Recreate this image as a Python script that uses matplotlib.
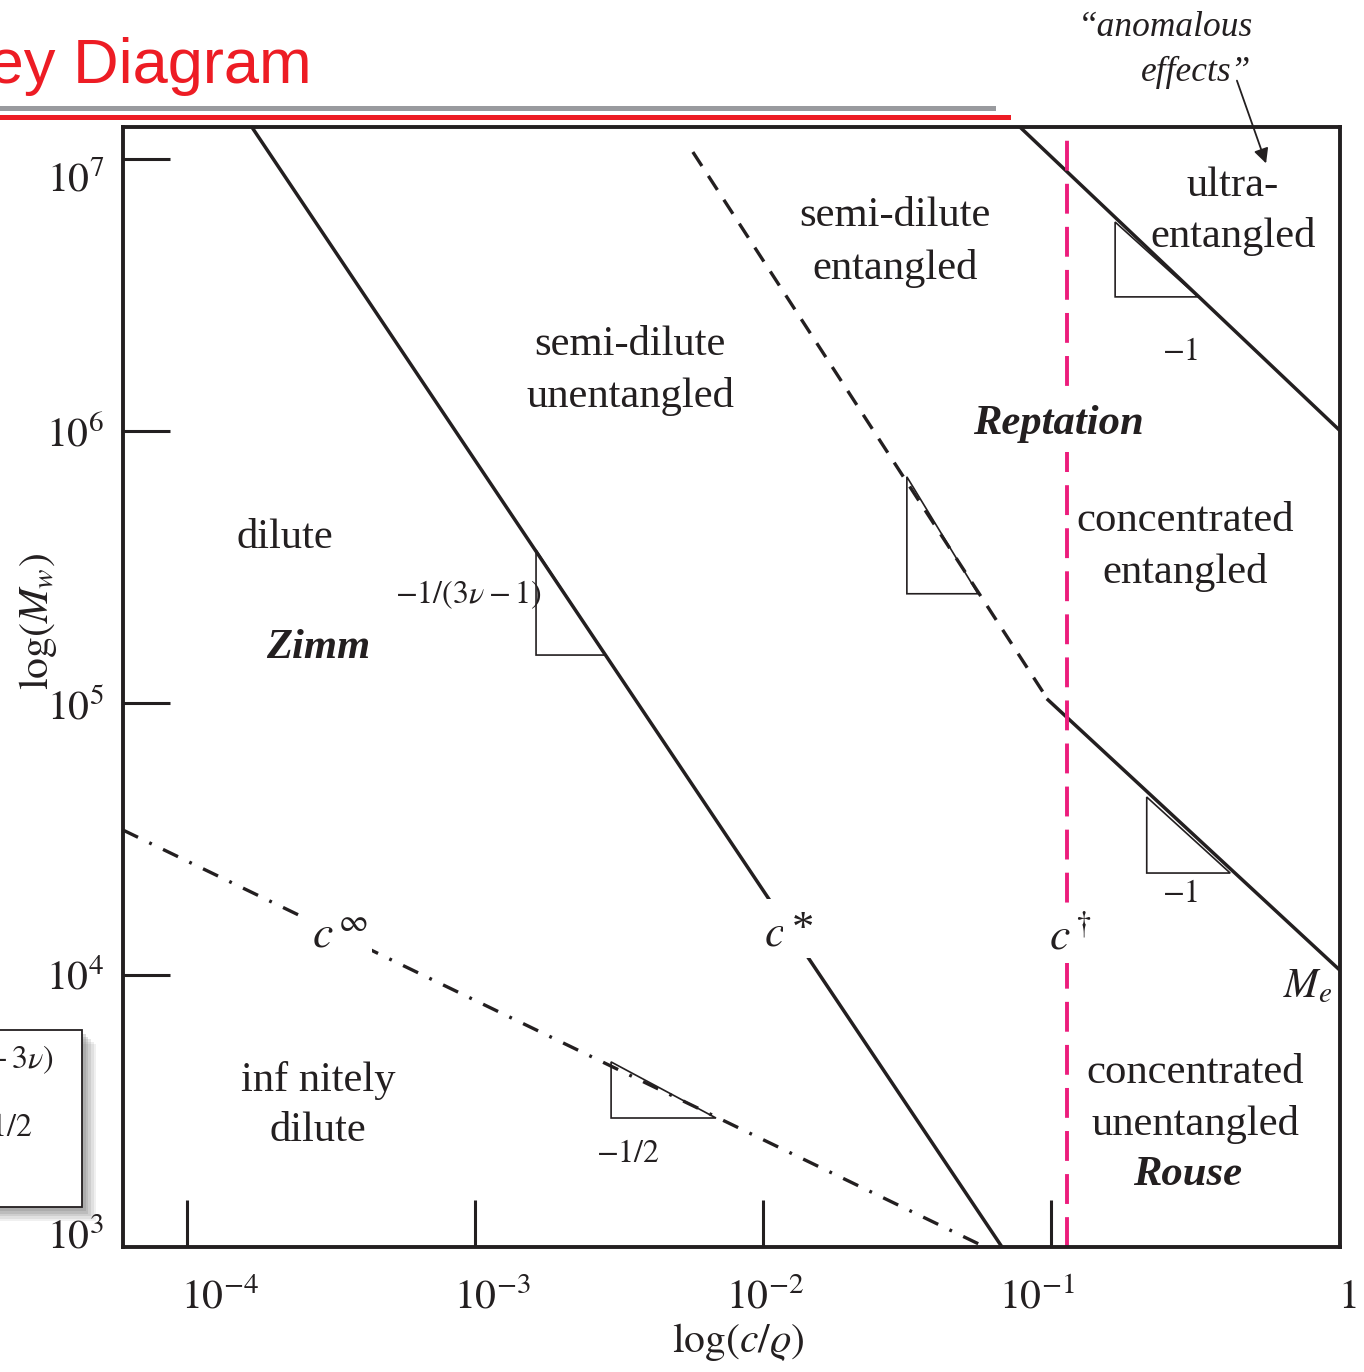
import matplotlib
matplotlib.use('Agg')
import matplotlib.pyplot as plt
from matplotlib.patches import Rectangle
from matplotlib.lines import Line2D

plt.rcParams['font.family'] = ['Liberation Serif', 'DejaVu Serif']
plt.rcParams['mathtext.fontset'] = 'stix'
plt.rcParams['lines.scale_dashes'] = False

# boundary lines: (c/rho, Mw) end points
c_star_c = [1.68e-4, 0.0676]
c_star_M = [1.31e7, 1.0e3]
c_inf_c = [6.0e-5, 0.059]
c_inf_M = [3.41e4, 1.0e3]
entangle_c = [5.71e-3, 0.0977]
entangle_M = [1.06e7, 1.026e5]
Me_c = [0.0977, 1.008]
Me_M = [1.026e5, 1.04e4]
ultra_c = [0.078, 1.0]
ultra_M = [1.31e7, 1.01e6]
c_dagger = 0.114

# slope triangles (corner top, corner bottom, right end)
tri_cstar_c = [1.63e-3, 1.63e-3, 2.83e-3]
tri_cstar_M = [3.65e5, 1.50e5, 1.50e5]
tri_ent_c = [0.0316, 0.0316, 0.0558]
tri_ent_M = [6.78e5, 2.52e5, 2.52e5]
tri_Me_c = [0.215, 0.215, 0.419]
tri_Me_M = [4.51e4, 2.37e4, 2.37e4]
tri_ultra_c = [0.167, 0.167, 0.324]
tri_ultra_M = [5.86e6, 3.11e6, 3.11e6]
tri_inf_c = [2.97e-3, 2.97e-3, 6.87e-3]
tri_inf_M = [4.79e3, 2.98e3, 2.98e3]

x_ticks = [1e-4, 1e-3, 1e-2, 1e-1]
y_ticks = [1e4, 1e5, 1e6, 1e7]
x_ticklabels = [r'$10^{-4}$', r'$10^{-3}$', r'$10^{-2}$', r'$10^{-1}$', r'$1$']
y_ticklabels = [r'$10^{7}$', r'$10^{6}$', r'$10^{5}$', r'$10^{4}$', r'$10^{3}$']

W, H = 1364, 1372
fig = plt.figure(figsize=(W / 100, H / 100), dpi=100)
ax = fig.add_axes([123 / W, 1 - 1247 / H, (1340 - 123) / W, (1247 - 127) / H])
ax.set_xscale('log')
ax.set_yscale('log')
ax.set_xlim(6.0e-5, 1.008)
ax.set_ylim(1e3, 1.31e7)


def fp(x, y):
    # figure pixel -> figure fraction
    return x / W, 1 - y / H


ink = '#231f20'
lw = 2.5
ax.plot(c_star_c, c_star_M, color=ink, lw=lw, solid_capstyle='butt')
ax.plot(c_inf_c, c_inf_M, color=ink, lw=2.4, dashes=(12, 9, 2, 9))
ax.plot(entangle_c, entangle_M, color=ink, lw=2.4, dashes=(12, 8.5))
ax.plot(Me_c, Me_M, color=ink, lw=lw)
ax.plot(ultra_c, ultra_M, color=ink, lw=lw)
ax.axvline(c_dagger, color='#ec1c7c', lw=2.8, dashes=(21.5, 9.5))

for tc, tm in [(tri_cstar_c, tri_cstar_M), (tri_ent_c, tri_ent_M), (tri_Me_c, tri_Me_M),
               (tri_ultra_c, tri_ultra_M), (tri_inf_c, tri_inf_M)]:
    ax.fill(tc, tm, facecolor='none', edgecolor=ink, lw=1.2)

for s in ax.spines.values():
    s.set_linewidth(2.8)
    s.set_color(ink)

ax.set_xticks(x_ticks)
ax.set_yticks(y_ticks)
ax.minorticks_off()
ax.tick_params(direction='in', length=34, width=2.2, color=ink,
               labelbottom=False, labelleft=False)

# tick labels
tick_fs = 30
for lab, x in zip(x_ticklabels, [220, 492, 765, 1037, 1347]):
    fig.text(*fp(x, 1298), lab, ha='center', va='center', fontsize=tick_fs, color=ink)
for lab, y in zip(y_ticklabels, [181, 436, 709, 979, 1238]):
    fig.text(*fp(104, y), lab, ha='right', va='center', fontsize=tick_fs, color=ink)

fig.text(*fp(738, 1342), r'$\mathrm{log}(c/\varrho)$', ha='center', va='center',
         fontsize=30, color=ink)
fig.text(*fp(38, 622), r'$\mathrm{log}(M_w)$', ha='center', va='center',
         fontsize=30, rotation=90, color=ink)

# region labels
fs = 30.7
txt = dict(ha='center', va='center', fontsize=fs, color=ink)
bi = dict(txt, fontweight='bold', style='italic')
for s, x, y in [('semi-dilute', 895, 216), ('entangled', 895, 268),
                ('semi-dilute', 630, 345), ('unentangled', 630, 396),
                ('ultra-', 1233, 186), ('entangled', 1233, 236),
                ('dilute', 285, 538),
                ('concentrated', 1185, 521), ('entangled', 1185, 572),
                ('inf nitely', 318, 1081), ('dilute', 318, 1131),
                ('concentrated', 1195, 1073), ('unentangled', 1195, 1124)]:
    fig.text(*fp(x, y), s, **txt)
fig.text(*fp(318, 648), 'Zimm', **bi)
fig.text(*fp(1188, 1175), 'Rouse', **bi)
fig.text(*fp(1058, 424), 'Reptation', **bi,
         bbox=dict(facecolor='white', edgecolor='none', pad=6))

# slopes
sl = dict(ha='center', va='center', fontsize=23, color=ink)
fig.text(*fp(468, 595), r'$-1/(3\nu-1)$', **sl)
fig.text(*fp(1180, 352), r'$-1$', **sl)
fig.text(*fp(1180, 895), r'$-1$', **sl)
fig.text(*fp(628, 1154), r'$-1/2$', **sl)

# line labels
wb = dict(facecolor='white', edgecolor='none', pad=3)
fig.text(*fp(775, 934), r'$c$', ha='center', va='center', fontsize=33,
         color=ink, bbox=dict(facecolor='white', edgecolor='none', pad=10))
fig.text(*fp(803, 930), '*', ha='center', va='center', fontsize=32, color=ink,
         bbox=dict(facecolor='white', edgecolor='none', pad=6))
fig.text(*fp(340, 935), r'$c\,^{\infty}$', ha='center', va='center', fontsize=33,
         color=ink, bbox=wb)
fig.text(*fp(1070, 938), r'$c\,^{\dagger}$', ha='center', va='center', fontsize=33,
         color=ink, bbox=wb)
fig.text(*fp(1308, 987), r'$M_e$', ha='center', va='center', fontsize=30, color=ink)

# anomalous effects annotation
fig.text(*fp(1165, 27), '\u201canomalous', ha='center', va='center', fontsize=25.5,
         style='italic', color=ink)
fig.text(*fp(1196, 72), 'effects\u201d', ha='center', va='center', fontsize=25.5,
         style='italic', color=ink)
fig.add_artist(matplotlib.patches.FancyArrowPatch(
    fp(1236, 78), fp(1267, 166), transform=fig.transFigure, arrowstyle='-|>',
    mutation_scale=22, lw=1.3, color=ink))

# slide title and rules
fig.text(*fp(312, 67), 'Graessley Diagram', ha='right', va='center', fontsize=45.5,
         family='Liberation Sans', color='#ed1c24')
fig.add_artist(Line2D([0, 993 / W], [1 - 108 / H] * 2, color='#999a9e', lw=3.6,
                      transform=fig.transFigure))
fig.add_artist(Line2D([0, 1008 / W], [1 - 116.5 / H] * 2, color='#ed1c24', lw=3.6,
                      transform=fig.transFigure))

# partial inset box at left edge with shadow
for i, a in enumerate([0.12, 0.15, 0.2, 0.25, 0.3]):
    d = 14 - i * 2.5
    fig.add_artist(Rectangle(fp(-10 + d * 0.5, 1207 + d), (92 + d * 0.5) / W, 177 / H,
                             transform=fig.transFigure, facecolor='#8a8a8a',
                             edgecolor='none', alpha=a))
fig.add_artist(Rectangle(fp(-10, 1207), 92 / W, 177 / H, transform=fig.transFigure,
                         facecolor='white', edgecolor=ink, lw=1.3))
fig.text(*fp(54, 1060), r'$(1-3\nu)$', ha='right', va='center', fontsize=23, color=ink)
fig.text(*fp(33, 1129), r'$-1/2$', ha='right', va='center', fontsize=23, color=ink)

fig.savefig('out.png', dpi=100)
plt.close(fig)
